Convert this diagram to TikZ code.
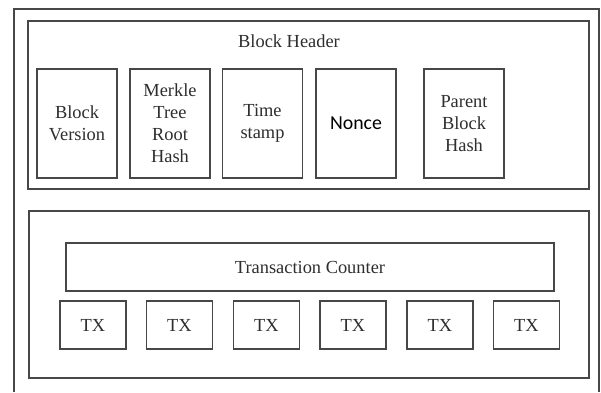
\documentclass[tikz,border=0pt]{standalone}
\usepackage{fontspec}
\setmainfont{Liberation Serif}
\newfontfamily\noncefont{Carlito}
\begin{document}
\begin{tikzpicture}[x=1pt,y=-1pt,
  frame/.style={draw=black!72,line width=1.4pt},
  box/.style={draw=black!72,line width=1.4pt,fill=white,inner sep=0pt,align=center,
    font=\fontsize{18.4}{22}\selectfont,text=black!82},
  fld/.style={box,minimum width=80pt,minimum height=109pt},
  txbox/.style={box,minimum width=66pt,minimum height=48pt}]
\useasboundingbox (0,0) rectangle (601,392);
\fill[white] (0,0) rectangle (601,392);
% outer frame (bottom edge outside the picture)
\draw[frame] (14,392) -- (14,9) -- (599,9) -- (599,392);
% block header
\node[frame,minimum width=561pt,minimum height=168pt,inner sep=0pt] (hdr) at (308.5,105) {};
\node[font=\fontsize{18.4}{22}\selectfont,text=black!82] (hdrlabel) at (289,41) {Block Header};
\node[fld] (ver) at (77,123.5) {Block\\Version};
\node[fld] (mrk) at (170,123.5) {Merkle\\Tree\\Root\\Hash};
\node[fld] (tim) at (262.5,123.5) {Time\\stamp};
\node[fld,font=\fontsize{19.8}{22}\noncefont,text=black] (non) at (356,123.5) {Nonce};
\node[fld] (par) at (464,123.5) {Parent\\Block\\Hash};
% transactions
\node[frame,minimum width=560pt,minimum height=167pt,inner sep=0pt] (txs) at (309,294.5) {};
\node[box,minimum width=488pt,minimum height=48pt] (cnt) at (310,267) {Transaction Counter};
\node[txbox] (tx1) at (93,325) {TX};
\node[txbox] (tx2) at (179.5,325) {TX};
\node[txbox] (tx3) at (266.5,325) {TX};
\node[txbox] (tx4) at (353,325) {TX};
\node[txbox] (tx5) at (440,325) {TX};
\node[txbox] (tx6) at (526.5,325) {TX};
\end{tikzpicture}
\end{document}
